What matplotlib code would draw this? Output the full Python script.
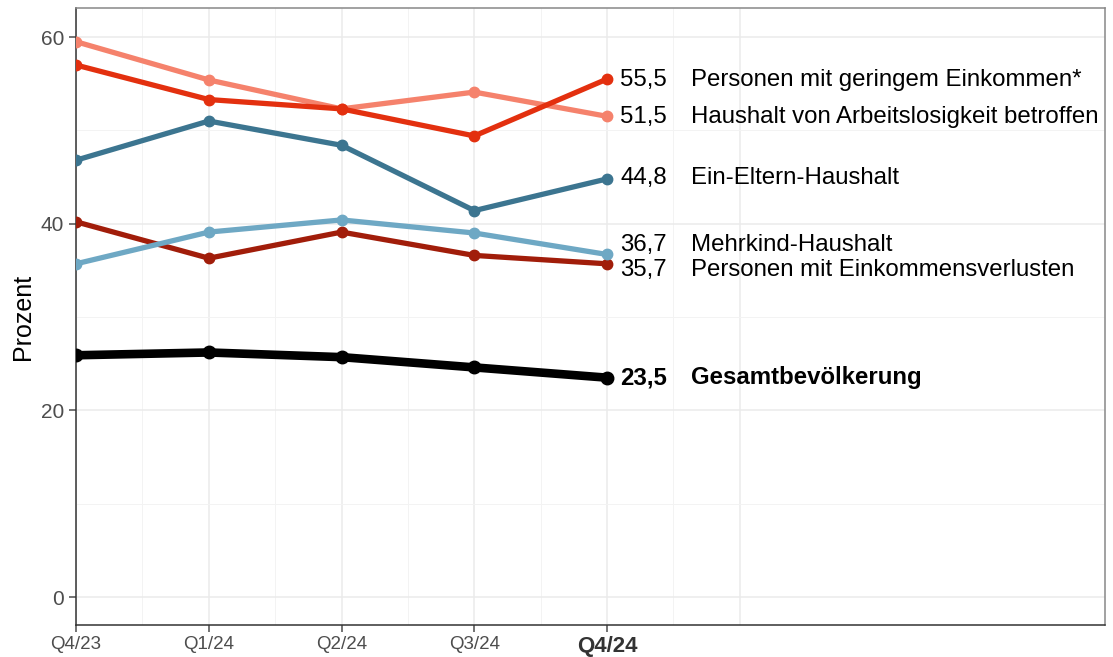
import matplotlib
matplotlib.use("Agg")
import matplotlib.pyplot as plt
import numpy as np

plt.rcParams['font.family'] = ['Liberation Sans', 'DejaVu Sans']

quarters = ["Q4/23", "Q1/24", "Q2/24", "Q3/24", "Q4/24"]

geringes_einkommen = [57.0, 53.3, 52.3, 49.4, 55.5]
arbeitslosigkeit = [59.5, 55.4, 52.3, 54.1, 51.5]
ein_eltern = [46.8, 51.0, 48.4, 41.4, 44.8]
mehrkind = [35.7, 39.1, 40.4, 39.0, 36.7]
einkommensverluste = [40.2, 36.3, 39.1, 36.6, 35.7]
gesamt = [25.9, 26.2, 25.7, 24.6, 23.5]

names = ["Personen mit geringem Einkommen*", "Haushalt von Arbeitslosigkeit betroffen",
         "Ein-Eltern-Haushalt", "Mehrkind-Haushalt",
         "Personen mit Einkommensverlusten", "Gesamtbevölkerung"]
series = [geringes_einkommen, arbeitslosigkeit, ein_eltern, mehrkind,
          einkommensverluste, gesamt]
colors = ["#e3300f", "#f5826c", "#3c7590", "#6ea8c4", "#a11d0a", "#000000"]
# label y positions (nudged where labels would overlap)
label_y = [55.4, 51.4, 44.9, 37.7, 35.0, 23.5]

x = np.arange(len(quarters))

fig = plt.figure(figsize=(11.13, 6.57), dpi=100)
ax = fig.add_axes([0.0683, 0.0487, 0.9245, 0.939])

# grid
for xv in np.arange(0, 6):
    ax.axvline(xv, color="#ebebeb", lw=1.1, zorder=0)
for xv in np.arange(0.5, 5.0, 1.0):
    ax.axvline(xv, color="#f3f3f3", lw=0.7, zorder=0)
for yv in [0, 20, 40, 60]:
    ax.axhline(yv, color="#ebebeb", lw=1.1, zorder=0)
for yv in [10, 30, 50]:
    ax.axhline(yv, color="#f3f3f3", lw=0.7, zorder=0)

order = [4, 3, 2, 1, 0, 5]
for i in order:
    bold = names[i] == "Gesamtbevölkerung"
    ax.plot(x, series[i], color=colors[i], lw=6.2 if bold else 3.8,
            marker="o", markersize=9 if bold else 7.5, clip_on=True, zorder=3,
            solid_capstyle="round", solid_joinstyle="round")

for i in range(len(names)):
    bold = names[i] == "Gesamtbevölkerung"
    val = f"{series[i][-1]:.1f}".replace(".", ",")
    fw = "bold" if bold else "normal"
    ax.text(4.10, label_y[i], val, fontsize=17.3, fontweight=fw,
            va="center", ha="left", color="black")
    ax.text(4.63, label_y[i], names[i], fontsize=17.3, fontweight=fw,
            va="center", ha="left", color="black")

ax.set_xlim(0, 7.75)
ax.set_ylim(-3.0, 63.1)
ax.set_xticks(x)
ax.set_xticklabels(quarters)
ax.set_yticks([0, 20, 40, 60])
ax.tick_params(axis="both", colors="#4d4d4d", labelcolor="#4d4d4d",
               length=5, width=1.1)
ax.tick_params(axis="x", labelsize=13.5, pad=3)
ax.tick_params(axis="y", labelsize=15)
for lab in ax.get_xticklabels():
    if lab.get_text() == "Q4/24":
        lab.set_fontweight("bold")
        lab.set_fontsize(16)
        lab.set_color("#333333")

ax.set_ylabel("Prozent", fontsize=18, labelpad=4)

for s in ax.spines.values():
    s.set_color("#333333")
    s.set_linewidth(1.1)
ax.spines["top"].set_color("#888888")
ax.spines["right"].set_color("#888888")

fig.savefig("out.png", dpi=100)
